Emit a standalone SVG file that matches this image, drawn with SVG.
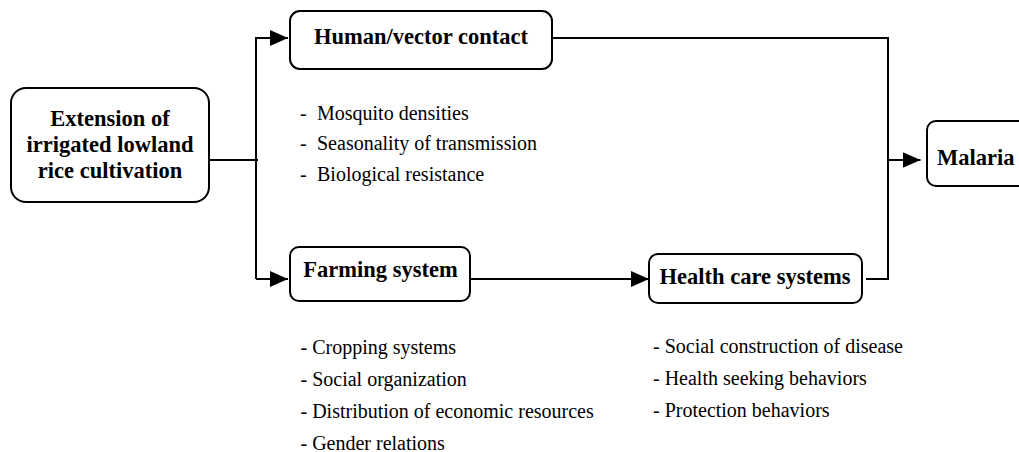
<svg xmlns="http://www.w3.org/2000/svg" width="1019" height="452" viewBox="0 0 1019 452">
<defs>
<style>
.box{fill:#fff;stroke:#000;stroke-width:2}
.t{font-family:"Liberation Serif","Times New Roman",serif;font-weight:bold;font-size:22.5px;fill:#000}
.l{font-family:"Liberation Serif","Times New Roman",serif;font-size:20px;fill:#000}
.c{fill:none;stroke:#000;stroke-width:2}
</style>
<marker id="ah" markerWidth="18" markerHeight="16" refX="18" refY="8" orient="auto" markerUnits="userSpaceOnUse">
<path d="M0,0 L18,8 L0,16 Z" fill="#000"/>
</marker>
</defs>
<rect width="1019" height="452" fill="#fff"/>
<g id="connectors">
<path class="c" d="M209,160 H258"/>
<path class="c" d="M256,279 V38 H288" marker-end="url(#ah)"/>
<path class="c" d="M256,279 H288" marker-end="url(#ah)"/>
<path class="c" d="M552,38 H888 V279 H866"/>
<path class="c" d="M888,160 H920.5" marker-end="url(#ah)"/>
<path class="c" d="M470,279 H649" marker-end="url(#ah)"/>
</g>
<g id="extension">
<rect class="box" x="11" y="88" width="198" height="114" rx="15"/>
<text class="t" x="110" y="126" text-anchor="middle">Extension of</text>
<text class="t" x="110" y="152" text-anchor="middle">irrigated lowland</text>
<text class="t" x="110" y="178" text-anchor="middle">rice cultivation</text>
</g>
<g id="human">
<rect class="box" x="290" y="11" width="262" height="58" rx="10"/>
<text class="t" x="421" y="44" text-anchor="middle">Human/vector contact</text>
</g>
<g id="human-list">
<text class="l" x="300" y="120">-<tspan x="317">Mosquito densities</tspan></text>
<text class="l" x="300" y="150">-<tspan x="317">Seasonality of transmission</tspan></text>
<text class="l" x="300" y="181">-<tspan x="317">Biological resistance</tspan></text>
</g>
<g id="farming">
<rect class="box" x="290" y="247" width="180" height="54" rx="9"/>
<text class="t" x="380.5" y="277" text-anchor="middle">Farming system</text>
</g>
<g id="farming-list">
<text class="l" x="300.5" y="354">- Cropping systems</text>
<text class="l" x="300.5" y="386">- Social organization</text>
<text class="l" x="300.5" y="418">- Distribution of economic resources</text>
<text class="l" x="300.5" y="450">- Gender relations</text>
</g>
<g id="health">
<rect class="box" x="649" y="254" width="213" height="49" rx="9"/>
<text class="t" x="755" y="284" text-anchor="middle">Health care systems</text>
</g>
<g id="health-list">
<text class="l" x="653" y="353">- Social construction of disease</text>
<text class="l" x="653" y="385">- Health seeking behaviors</text>
<text class="l" x="653" y="417">- Protection behaviors</text>
</g>
<g id="malaria">
<rect class="box" x="927" y="121" width="110" height="65" rx="9"/>
<text class="t" x="937" y="165">Malaria</text>
</g>
</svg>
